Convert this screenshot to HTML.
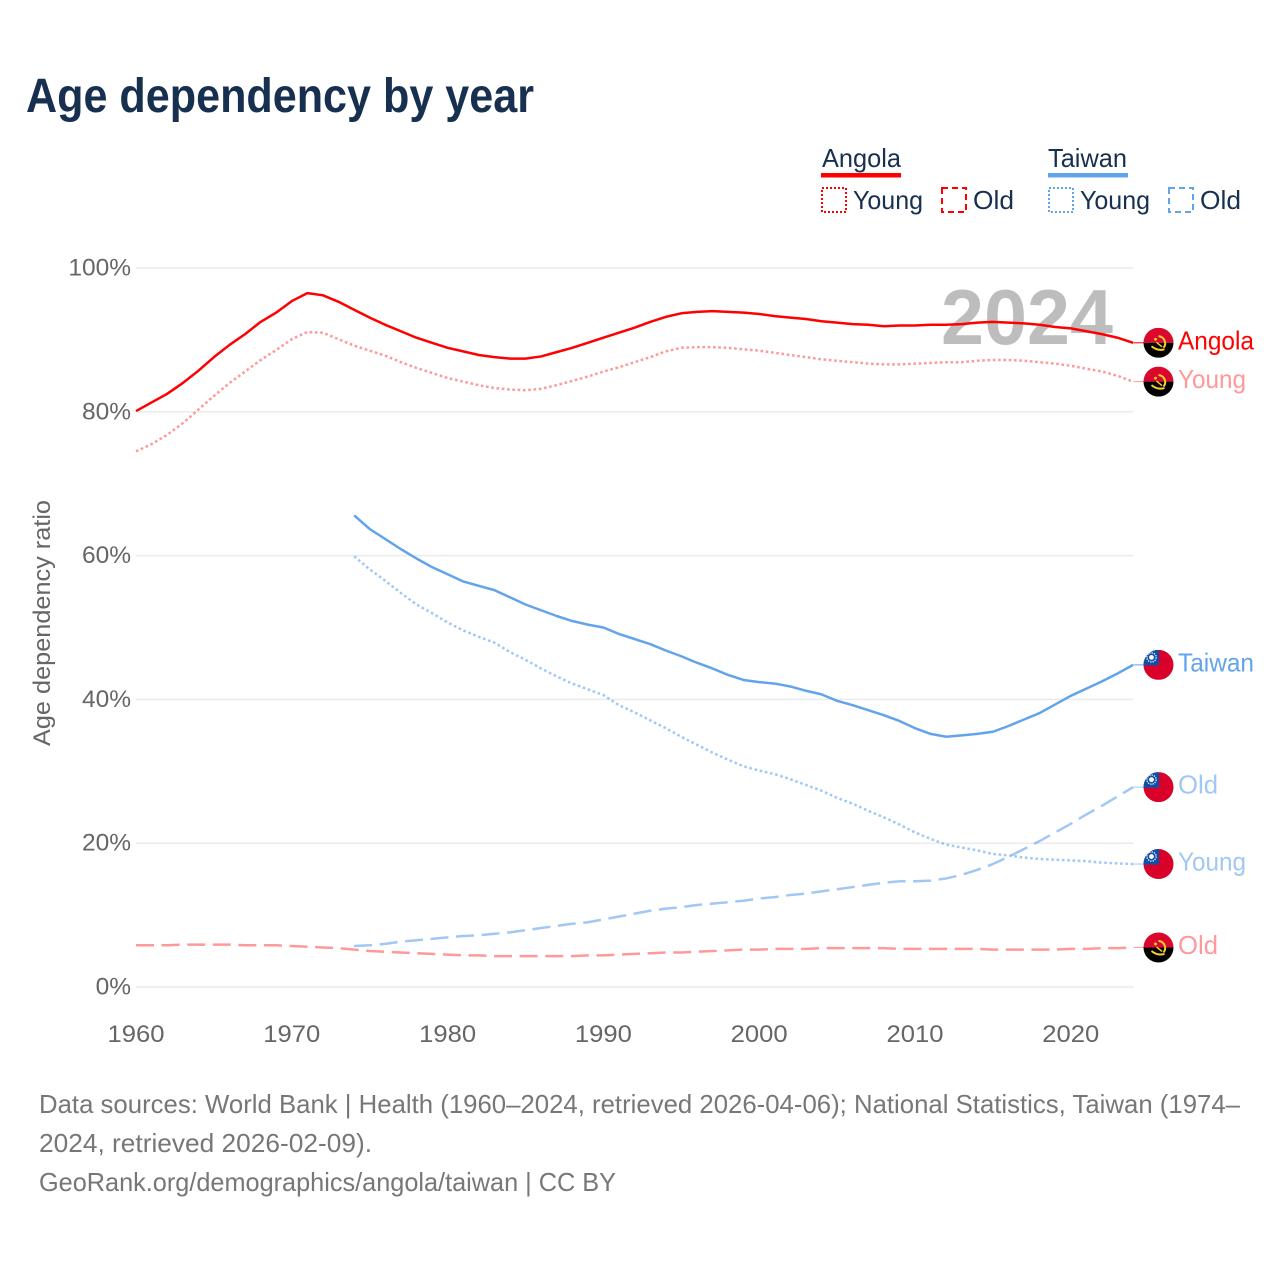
<!DOCTYPE html>
<html lang="en">
<head>
<meta charset="utf-8">
<title>Age dependency by year</title>
<style>
html,body{margin:0;padding:0;background:#fff;}
svg{display:block;font-family:"Liberation Sans",sans-serif;}
</style>
</head>
<body>
<svg id="chart" xmlns="http://www.w3.org/2000/svg" width="1280" height="1280" viewBox="0 0 1280 1280">
  <defs>
    <clipPath id="flag-clip"><circle cx="0" cy="0" r="15"/></clipPath>
    <g id="flag-angola" clip-path="url(#flag-clip)">
      <rect x="-15" y="-15" width="30" height="15" fill="#d9082c"/>
      <rect x="-15" y="0" width="30" height="15" fill="#000"/>
      <path d="M0-6.5A7 7 0 0 1 5 5" fill="none" stroke="#fbd02e" stroke-width="2"/>
      <path d="M-7 3.5Q-1 8.5 6 6.5" fill="none" stroke="#fbd02e" stroke-width="2"/>
      <path d="M-2-0.5L3.5 4" stroke="#fbd02e" stroke-width="1.5"/>
      <circle cx="-3" cy="-3.5" r="1.4" fill="#fbd02e"/>
    </g>
    <g id="flag-taiwan" clip-path="url(#flag-clip)">
      <rect x="-15" y="-15" width="30" height="30" fill="#d9002a"/>
      <rect x="-15" y="-15" width="15.5" height="15.5" fill="#0d50aa"/>
      <circle cx="-7" cy="-7.5" r="4.6" fill="none" stroke="#fff" stroke-width="1.3" stroke-dasharray="1.3 1.1"/>
      <circle cx="-7" cy="-7.5" r="2.4" fill="#fff"/>
    </g>
  </defs>

  <text x="26" y="112" font-size="48" font-weight="700" fill="#18304f" textLength="508" lengthAdjust="spacingAndGlyphs">Age dependency by year</text>

  <g font-size="26" fill="#18304f">
    <g>
      <text x="822" y="167" textLength="79" lengthAdjust="spacingAndGlyphs">Angola</text>
      <rect x="821" y="173" width="80" height="4.5" fill="#ff0000"/>
      <rect x="822" y="188" width="24" height="24" fill="none" stroke="#ff0000" stroke-width="2" stroke-dasharray="2 2"/>
      <text x="853" y="209" textLength="70" lengthAdjust="spacingAndGlyphs">Young</text>
      <rect x="942" y="188" width="24" height="24" fill="none" stroke="#ff0000" stroke-width="2" stroke-dasharray="6 4"/>
      <text x="973" y="209" textLength="41" lengthAdjust="spacingAndGlyphs">Old</text>
    </g>
    <g>
      <text x="1048" y="167" textLength="79" lengthAdjust="spacingAndGlyphs">Taiwan</text>
      <rect x="1048" y="173" width="80" height="4.5" fill="#62a4ec"/>
      <rect x="1049" y="188" width="24" height="24" fill="none" stroke="#62a4ec" stroke-width="2" stroke-dasharray="2 2"/>
      <text x="1080" y="209" textLength="70" lengthAdjust="spacingAndGlyphs">Young</text>
      <rect x="1169" y="188" width="24" height="24" fill="none" stroke="#62a4ec" stroke-width="2" stroke-dasharray="6 4"/>
      <text x="1200" y="209" textLength="41" lengthAdjust="spacingAndGlyphs">Old</text>
    </g>
  </g>

  <g id="grid"></g>
  <g id="y-ticks"></g>
  <g id="x-ticks"></g>
  <text transform="translate(50,623) rotate(-90)" text-anchor="middle" font-size="24" fill="#666" textLength="246" lengthAdjust="spacingAndGlyphs">Age dependency ratio</text>
  <text x="941" y="344" font-size="78" font-weight="700" fill="#bdbdbd" textLength="172" lengthAdjust="spacingAndGlyphs">2024</text>
  <g id="series"></g>
  <g id="end-labels"></g>

  <g font-size="26" fill="#777">
    <text x="39" y="1113" textLength="1201" lengthAdjust="spacingAndGlyphs">Data sources: World Bank | Health (1960–2024, retrieved 2026-04-06); National Statistics, Taiwan (1974–</text>
    <text x="39" y="1152" textLength="333" lengthAdjust="spacingAndGlyphs">2024, retrieved 2026-02-09).</text>
    <text x="39" y="1191" textLength="577" lengthAdjust="spacingAndGlyphs">GeoRank.org/demographics/angola/taiwan | CC BY</text>
  </g>
</svg>
<script>
const yTickValues = [0, 20, 40, 60, 80, 100];
const xTickValues = [1960, 1970, 1980, 1990, 2000, 2010, 2020];
const angolaStartYear = 1960;
const taiwanStartYear = 1974;
const angolaTotal = [80.1,81.3,82.5,84.0,85.7,87.6,89.3,90.8,92.5,93.8,95.4,96.5,96.2,95.3,94.2,93.1,92.1,91.2,90.3,89.6,88.9,88.4,87.9,87.6,87.4,87.4,87.7,88.3,88.9,89.6,90.3,91.0,91.7,92.5,93.2,93.7,93.9,94.0,93.9,93.8,93.6,93.3,93.1,92.9,92.6,92.4,92.2,92.1,91.9,92.0,92.0,92.1,92.1,92.2,92.4,92.5,92.4,92.3,92.1,91.8,91.6,91.2,90.8,90.3,89.6];
const angolaYoung = [74.5,75.5,76.8,78.4,80.3,82.2,84.0,85.6,87.2,88.6,90.1,91.1,91.0,90.1,89.2,88.5,87.8,86.9,86.1,85.4,84.7,84.2,83.7,83.3,83.1,83.0,83.2,83.7,84.3,84.9,85.6,86.2,86.9,87.6,88.4,88.9,89.0,89.0,88.9,88.7,88.5,88.2,87.9,87.6,87.3,87.1,86.9,86.7,86.6,86.6,86.7,86.8,86.9,86.9,87.1,87.2,87.2,87.1,86.9,86.7,86.4,86.0,85.6,85.0,84.2];
const angolaOld = [5.8,5.8,5.8,5.9,5.9,5.9,5.9,5.8,5.8,5.8,5.7,5.6,5.5,5.4,5.2,5.0,4.9,4.8,4.7,4.6,4.5,4.4,4.4,4.3,4.3,4.3,4.3,4.3,4.3,4.4,4.4,4.5,4.6,4.7,4.8,4.8,4.9,5.0,5.1,5.2,5.2,5.3,5.3,5.3,5.4,5.4,5.4,5.4,5.4,5.3,5.3,5.3,5.3,5.3,5.3,5.2,5.2,5.2,5.2,5.2,5.3,5.3,5.4,5.4,5.5];
const taiwanTotal = [65.6,63.7,62.3,60.9,59.6,58.4,57.4,56.4,55.8,55.2,54.2,53.2,52.4,51.6,50.9,50.4,50.0,49.1,48.4,47.7,46.8,46.0,45.1,44.3,43.4,42.7,42.4,42.2,41.8,41.2,40.7,39.8,39.2,38.5,37.8,37.0,36.0,35.2,34.8,35.0,35.2,35.5,36.3,37.2,38.1,39.3,40.5,41.5,42.5,43.6,44.8];
const taiwanYoung = [59.9,58.1,56.5,54.8,53.2,52.0,50.7,49.6,48.7,47.9,46.6,45.5,44.3,43.2,42.2,41.4,40.6,39.2,38.2,37.1,36.0,34.8,33.7,32.6,31.6,30.7,30.1,29.6,28.9,28.1,27.3,26.3,25.5,24.5,23.6,22.6,21.5,20.6,19.8,19.4,19.0,18.5,18.3,18.0,17.8,17.7,17.6,17.5,17.3,17.2,17.1];
const taiwanOld = [5.7,5.8,6.0,6.3,6.5,6.7,6.9,7.1,7.2,7.4,7.6,7.9,8.2,8.5,8.8,9.0,9.4,9.8,10.2,10.6,10.9,11.1,11.4,11.6,11.8,12.0,12.3,12.5,12.8,13.0,13.3,13.6,13.9,14.2,14.5,14.7,14.7,14.8,15.1,15.6,16.3,17.1,18.1,19.2,20.3,21.5,22.7,24.0,25.2,26.5,27.8];

const SVGNS = 'http://www.w3.org/2000/svg';
function xScale(year){ return 136 + (year - 1960) * 15.58; }
function yScale(pct){ return 987 - pct * 7.19; }
function make(tag, attrs, parent, txt){
  const el = document.createElementNS(SVGNS, tag);
  for (const k in attrs) el.setAttribute(k, attrs[k]);
  if (txt !== undefined) el.textContent = txt;
  parent.appendChild(el);
  return el;
}
const gridG = document.getElementById('grid');
const yG = document.getElementById('y-ticks');
const xG = document.getElementById('x-ticks');
const seriesG = document.getElementById('series');
const labelsG = document.getElementById('end-labels');

yTickValues.forEach(function(v){
  const line = make('line', {x1:136, x2:1133.5, y1:yScale(v), y2:yScale(v), stroke:'#ebebeb', 'stroke-width':1.5}, gridG);
  
  
  const t = make('text', {x:131, y:yScale(v)+7.5, 'text-anchor':'end', 'font-size':24.5, fill:'#666'}, yG, v + '%');
  
  
});
xTickValues.forEach(function(v){
  const t = make('text', {x:xScale(v), y:1042, 'text-anchor':'middle', 'font-size':24.5, fill:'#666', textLength:57, lengthAdjust:'spacingAndGlyphs'}, xG, String(v));
  
  
});

function drawLine(values, startYear, color, opacity, dash, name){
  const pts = values.map(function(v, i){ return xScale(startYear + i).toFixed(2) + ',' + yScale(v).toFixed(2); }).join(' ');
  const attrs = {points:pts, fill:'none', stroke:color, 'stroke-opacity':opacity, 'stroke-width':2.5, 'stroke-linejoin':'round'};
  if (dash) attrs['stroke-dasharray'] = dash;
  const line = make('polyline', attrs, seriesG);
  
  
}
drawLine(angolaOld, angolaStartYear, '#ff0000', 0.4, '18 7.6', 'line-angola-old');
drawLine(taiwanOld, taiwanStartYear, '#62a4ec', 0.6, '18 7.6', 'line-taiwan-old');
drawLine(angolaYoung, angolaStartYear, '#ff0000', 0.4, '2.6 2.7', 'line-angola-young');
drawLine(taiwanYoung, taiwanStartYear, '#62a4ec', 0.6, '2.6 2.7', 'line-taiwan-young');
drawLine(angolaTotal, angolaStartYear, '#ff0000', 1, '', 'line-angola-total');
drawLine(taiwanTotal, taiwanStartYear, '#62a4ec', 1, '', 'line-taiwan-total');

function endLabel(values, flag, color, text, width, name){
  const y = yScale(values[values.length - 1]);
  const leader = make('line', {x1:1133.5, x2:1144, y1:y, y2:y, stroke:color, 'stroke-width':1}, labelsG);
  
  
  const f = make('use', {href:'#' + flag, transform:'translate(1158.5,' + y.toFixed(2) + ')'}, labelsG);
  
  
  const t = make('text', {x:1178, y:y + 6.5, 'font-size':26, fill:color, textLength:width, lengthAdjust:'spacingAndGlyphs'}, labelsG, text);
  
  
}
endLabel(angolaTotal, 'flag-angola', '#ff0000', 'Angola', 76, 'end-angola-total');
endLabel(angolaYoung, 'flag-angola', '#ff9999', 'Young', 68, 'end-angola-young');
endLabel(angolaOld, 'flag-angola', '#ff9999', 'Old', 40, 'end-angola-old');
endLabel(taiwanTotal, 'flag-taiwan', '#62a4ec', 'Taiwan', 76, 'end-taiwan-total');
endLabel(taiwanOld, 'flag-taiwan', '#a1c8f4', 'Old', 40, 'end-taiwan-old');
endLabel(taiwanYoung, 'flag-taiwan', '#a1c8f4', 'Young', 68, 'end-taiwan-young');
</script>
</body>
</html>
